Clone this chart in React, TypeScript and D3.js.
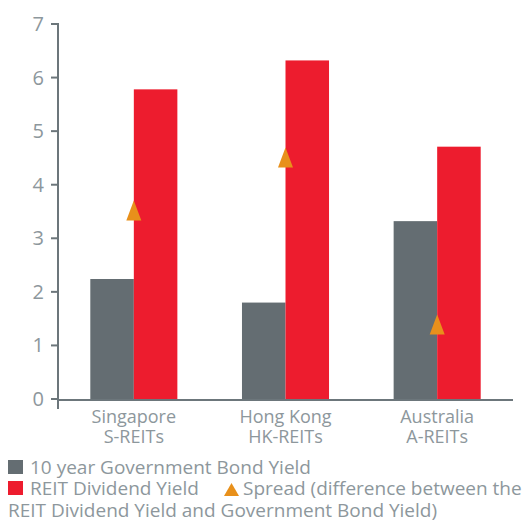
import React from "react";
import * as d3 from "d3";

const categories = ["Singapore|S-REITs", "Hong Kong|HK-REITs", "Australia|A-REITs"];
const bondYield = [2.24, 1.8, 3.32];
const reitYield = [5.78, 6.32, 4.71];
const spread = [3.52, 4.51, 1.39];
const yTicks = [0, 1, 2, 3, 4, 5, 6, 7];
const legendLabels = [
  "10 year Government Bond Yield",
  "REIT Dividend Yield",
  "Spread (difference between the",
  "REIT Dividend Yield and Government Bond Yield)",
];

const W = 523;
const H = 523;
const left = 58;
const right = 513;
const top = 24;
const bottom = 399;

const GRAY = "#646d72";
const RED = "#ed1c2e";
const ORANGE = "#e8901b";
const TEXT = "#8d979c";
const AXIS = "#6c767b";
const FONT = "'Open Sans', 'Noto Sans', sans-serif";

function triPath(cx: number, cy: number, w: number, h: number) {
  const p = d3.path();
  p.moveTo(cx, cy - h / 2);
  p.lineTo(cx + w / 2, cy + h / 2);
  p.lineTo(cx - w / 2, cy + h / 2);
  p.closePath();
  return p.toString();
}

export default function App() {
  const x = d3.scaleBand<string>().domain(categories).range([left, right]).paddingInner(0.426).paddingOuter(0.213);
  const y = d3.scaleLinear().domain([0, 7]).range([bottom, top]);
  const bw = x.bandwidth() / 2;

  return (
    <svg width={W} height={H} style={{ position: "absolute", left: 0, top: 0 }} fontFamily={FONT}>
      <rect width={W} height={H} fill="#fff" />
      {categories.map((c, i) => (
        <g key={c}>
          <rect x={x(c)!} y={y(bondYield[i])} width={bw} height={bottom - y(bondYield[i])} fill={GRAY} />
          <rect x={x(c)! + bw} y={y(reitYield[i])} width={bw} height={bottom - y(reitYield[i])} fill={RED} />
        </g>
      ))}
      {categories.map((c, i) => (
        <path key={"t" + c} d={triPath(x(c)! + bw, y(spread[i]), 15, 20)} fill={ORANGE} />
      ))}
      {/* y axis */}
      <line x1={left} x2={left} y1={top - 1} y2={bottom + 10} stroke={AXIS} strokeWidth={2} />
      {yTicks.map((t) => (
        <g key={t}>
          <line x1={left - 7} x2={left} y1={y(t)} y2={y(t)} stroke={AXIS} strokeWidth={2} />
          <text x={44} y={y(t)} dy="0.35em" textAnchor="end" fontSize={20} fill={TEXT}>
            {t}
          </text>
        </g>
      ))}
      {/* x axis */}
      <line x1={left} x2={right} y1={bottom + 1} y2={bottom + 1} stroke={AXIS} strokeWidth={2} />
      {categories.map((c) => {
        const [a, b] = c.split("|");
        const cx = x(c)! + x.bandwidth() / 2;
        return (
          <text key={"l" + c} textAnchor="middle" fontSize={18} fill={TEXT}>
            <tspan x={cx} y={423}>{a}</tspan>
            <tspan x={cx} y={443}>{b}</tspan>
          </text>
        );
      })}
      {/* legend */}
      <rect x={8} y={460} width={15} height={14} fill={GRAY} />
      <rect x={8} y={481} width={15} height={14} fill={RED} />
      <path d={triPath(231.5, 489.5, 15, 13)} fill={ORANGE} />
      <text fontSize={19} fill={TEXT}>
        <tspan x={30} y={474}>{legendLabels[0]}</tspan>
        <tspan x={30} y={495}>{legendLabels[1]}</tspan>
        <tspan x={243} y={495}>{legendLabels[2]}</tspan>
        <tspan x={8} y={516.5}>{legendLabels[3]}</tspan>
      </text>
    </svg>
  );
}
